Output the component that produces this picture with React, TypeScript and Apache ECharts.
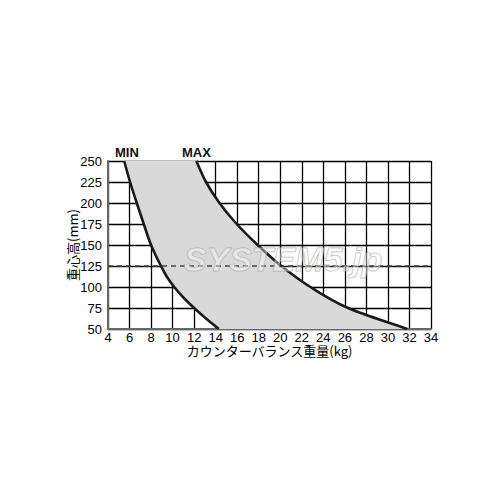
import React, { useEffect, useRef } from "react";
import * as echarts from "echarts";

const minHeights = [250, 225, 200, 175, 150, 125, 112.5, 100, 87.5, 75, 62.5, 50];
const minWeights = [5.5, 6.05, 6.67, 7.32, 8.0, 8.92, 9.45, 10.15, 11.0, 12.0, 13.1, 14.3];
const maxHeights = [250, 225, 200, 175, 150, 125, 100, 75, 50];
const maxWeights = [12.2, 13.1, 14.35, 15.95, 17.9, 20.1, 22.8, 26.3, 31.8];
const xTicks = { min: 4, max: 34, step: 2 };
const yTicks = { min: 50, max: 250, step: 25 };
const dashedHeight = 125;

const FONT = "'Liberation Sans', Arial, sans-serif";
const CJK = "'Noto Sans CJK JP', sans-serif";

// Piecewise cubic Hermite (x as a function of y) expressed as Bezier control points in data space
function hermiteSegments(data: number[][]): number[][][] {
  const n = data.length;
  const d: number[] = [];
  for (let i = 0; i < n - 1; i++) {
    d.push((data[i + 1][0] - data[i][0]) / (data[i + 1][1] - data[i][1]));
  }
  const m: number[] = [];
  for (let i = 0; i < n; i++) {
    if (i === 0) m.push(d[0]);
    else if (i === n - 1) m.push(d[n - 2]);
    else {
      const h0 = Math.abs(data[i][1] - data[i - 1][1]);
      const h1 = Math.abs(data[i + 1][1] - data[i][1]);
      m.push((d[i - 1] * h1 + d[i] * h0) / (h0 + h1));
    }
  }
  const segs: number[][][] = [];
  for (let i = 0; i < n - 1; i++) {
    const [x0, y0] = data[i];
    const [x1, y1] = data[i + 1];
    const h = y1 - y0;
    segs.push([
      [x0 + (m[i] * h) / 3, y0 + h / 3],
      [x1 - (m[i + 1] * h) / 3, y1 - h / 3],
      [x1, y1],
    ]);
  }
  return segs;
}

function pathFrom(data: number[][], api: any): string {
  let s = "";
  for (const seg of hermiteSegments(data)) {
    const c = seg.map((p) => api.coord(p));
    s += ` C ${c[0][0]} ${c[0][1]} ${c[1][0]} ${c[1][1]} ${c[2][0]} ${c[2][1]}`;
  }
  return s;
}

export default function App() {
  const ref = useRef<HTMLDivElement>(null);
  useEffect(() => {
    if (!ref.current) return;
    const chart = echarts.init(ref.current, null, { renderer: "svg" });
    const minData = minHeights.map((h, i) => [minWeights[i], h]);
    const maxData = maxHeights.map((h, i) => [maxWeights[i], h]);

    const curve = (pts: number[][], api: any) => {
      const s = api.coord(pts[0]);
      return `M ${s[0]} ${s[1]}` + pathFrom(pts, api);
    };

    chart.setOption({
      animation: false,
      grid: { left: 108, right: 69, top: 161, bottom: 171 },
      xAxis: {
        type: "value",
        min: xTicks.min,
        max: xTicks.max,
        interval: xTicks.step,
        name: "カウンターバランス重量(kg)",
        nameLocation: "middle",
        nameGap: 15,
        nameMoveOverlap: false,
        nameTextStyle: { color: "#000", fontSize: 13, fontFamily: CJK },
        axisLine: { show: true, lineStyle: { color: "#666", width: 2 } },
        axisTick: { show: false },
        axisLabel: { color: "#000", fontSize: 13, fontFamily: FONT, margin: 2 },
        splitLine: { show: true, lineStyle: { color: "#000", width: 1.3 } },
      },
      yAxis: {
        type: "value",
        min: yTicks.min,
        max: yTicks.max,
        interval: yTicks.step,
        name: "重心高(mm)",
        nameLocation: "middle",
        nameGap: 29,
        nameRotate: 90,
        nameMoveOverlap: false,
        nameTextStyle: { color: "#000", fontSize: 13, fontFamily: CJK },
        axisLine: { show: true, lineStyle: { color: "#666", width: 2 } },
        axisTick: { show: false },
        axisLabel: { color: "#000", fontSize: 13, fontFamily: FONT, margin: 6 },
        splitLine: { show: true, lineStyle: { color: "#000", width: 1.3 } },
      },
      graphic: [
        {
          type: "text",
          left: 115,
          top: 146,
          style: { text: "MIN", fontSize: 13, fontWeight: "bold", fontFamily: FONT, fill: "#111" },
        },
        {
          type: "text",
          left: 182,
          top: 146,
          style: { text: "MAX", fontSize: 13, fontWeight: "bold", fontFamily: FONT, fill: "#111" },
        },
        {
          type: "text",
          x: 283,
          y: 259,
          z: 100,
          style: {
            text: "SYSTEM5.jp",
            fontSize: 34,
            fontStyle: "italic",
            fontWeight: "bold",
            fontFamily: FONT,
            fill: "rgba(255,255,255,0.4)",
            stroke: "rgba(160,160,160,0.7)",
            lineWidth: 1,
            align: "center",
            verticalAlign: "middle",
          },
        },
      ],
      series: [
        {
          type: "custom",
          z: 1,
          silent: true,
          data: [0],
          renderItem: (params: any, api: any) => {
            const maxRev = maxData.slice().reverse();
            const a = api.coord(minData[0]);
            const b = api.coord(maxRev[0]);
            const d =
              `M ${a[0]} ${a[1]}` +
              pathFrom(minData, api) +
              ` L ${b[0]} ${b[1]}` +
              pathFrom(maxRev, api) +
              " Z";
            return {
              type: "group",
              children: [
                {
                  type: "path",
                  shape: { pathData: d },
                  style: { fill: "#d9d9d9", stroke: "none" },
                },
              ],
            };
          },
        },
        {
          type: "custom",
          name: "MIN / MAX",
          z: 5,
          silent: true,
          data: [0],
          renderItem: (params: any, api: any) => ({
            type: "group",
            children: [
              {
                type: "path",
                shape: { pathData: curve(minData, api) },
                style: { fill: "none", stroke: "#1a1a1a", lineWidth: 2.6 },
              },
              {
                type: "path",
                shape: { pathData: curve(maxData, api) },
                style: { fill: "none", stroke: "#1a1a1a", lineWidth: 2.6 },
              },
            ],
          }),
        },
        {
          type: "line",
          data: [],
          markLine: {
            silent: true,
            symbol: "none",
            label: { show: false },
            lineStyle: { color: "#444", width: 1.6, type: [5, 4] },
            data: [{ yAxis: dashedHeight }],
          },
        },
      ],
    });
    return () => chart.dispose();
  }, []);
  return (
    <div
      ref={ref}
      style={{ position: "fixed", left: 0, top: 0, width: 500, height: 500, background: "#fff" }}
    />
  );
}
